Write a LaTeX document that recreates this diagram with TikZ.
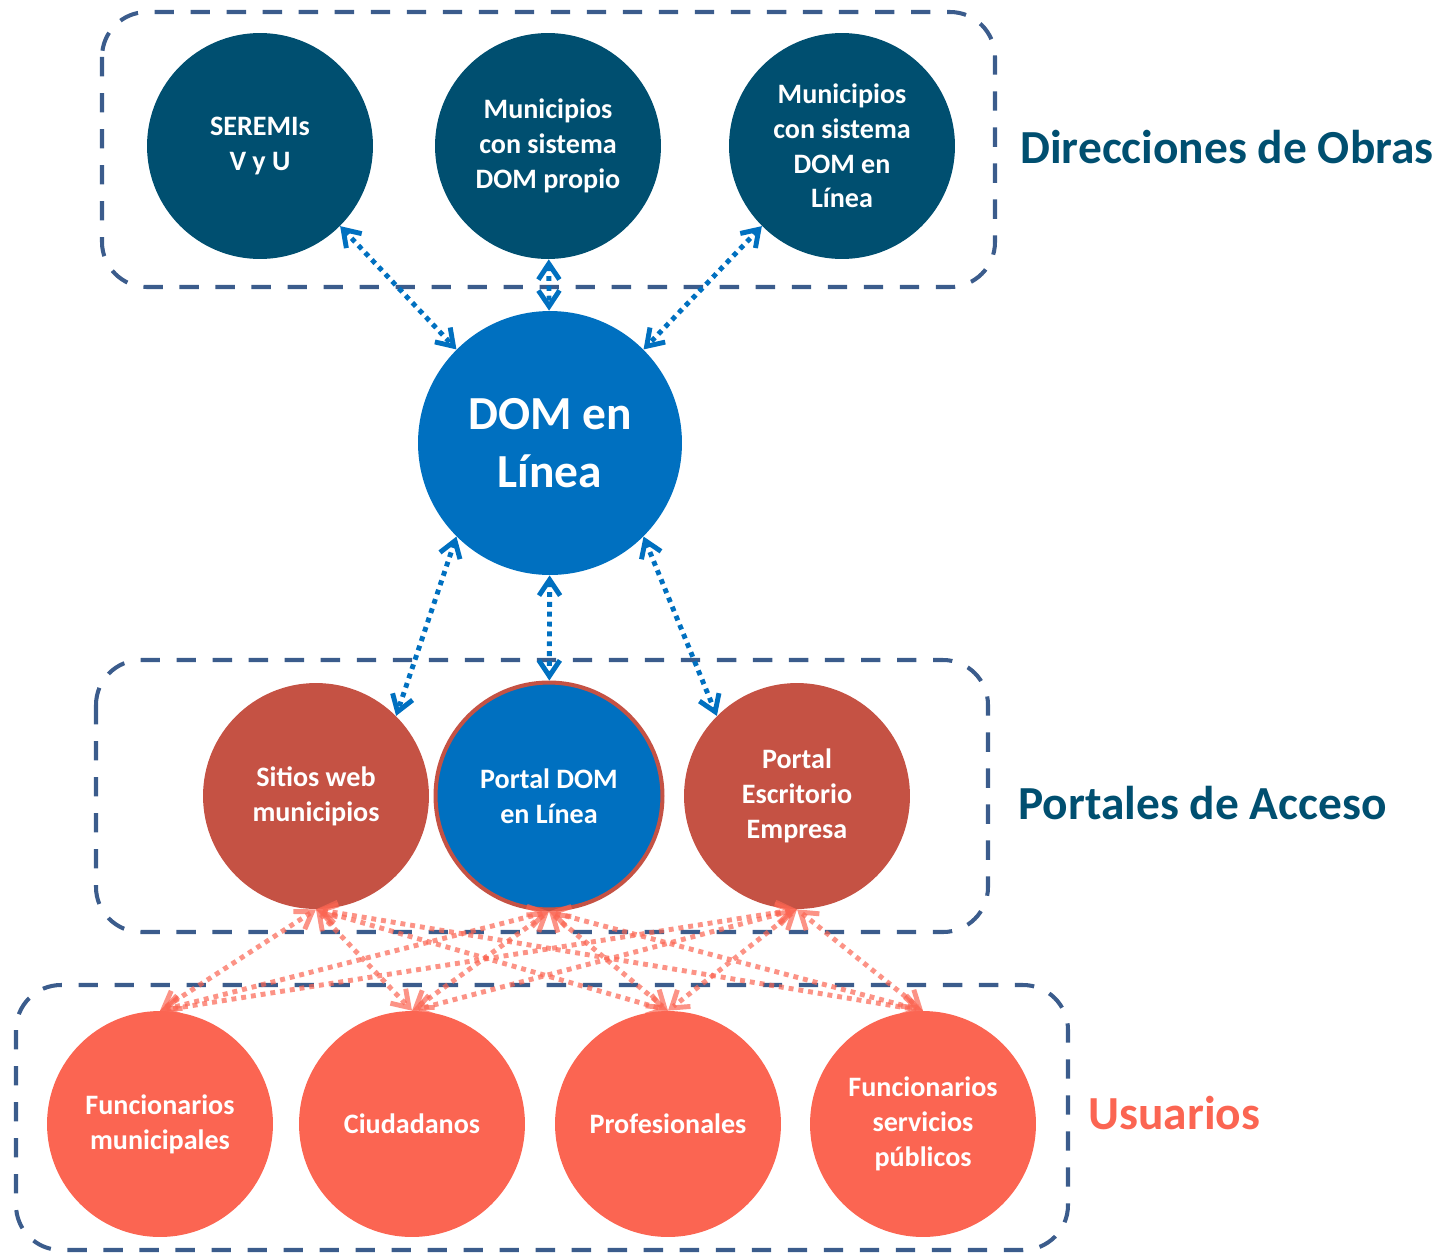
\documentclass[tikz,border=0pt]{standalone}
\usepackage{fontspec}
\setmainfont{Carlito}
\usetikzlibrary{arrows.meta}

\definecolor{obrasblue}{RGB}{0,79,112}
\definecolor{domblue}{RGB}{0,112,192}
\definecolor{portalred}{RGB}{197,82,68}
\definecolor{userred}{RGB}{251,101,82}
\definecolor{boxblue}{RGB}{59,92,140}

\begin{document}
\begin{tikzpicture}[x=0.02cm,y=-0.02cm,
  >={Straight Barb[length=9pt,width=12pt]},
  grupo/.style={draw=boxblue,line width=2.3pt,dash pattern=on 11pt off 9.5pt,rounded corners=0.9cm},
  bola/.style={circle,inner sep=0pt,minimum size=4.52cm,align=center,text=white,
    font=\bfseries\fontsize{16}{19.8}\selectfont},
  obra/.style={bola,fill=obrasblue},
  portal/.style={bola,fill=portalred},
  usuario/.style={bola,fill=userred},
  titulo/.style={anchor=west,inner sep=0pt,font=\bfseries\fontsize{27}{32}\selectfont},
  domarrow/.style={<->,draw=domblue,line width=2.8pt,dash pattern=on 2.8pt off 2.8pt},
  userarrow/.style={<->,draw=userred,draw opacity=0.7,line width=2.8pt,dash pattern=on 2.8pt off 2.8pt}]
  \useasboundingbox (0,0) rectangle (1454,1255);

  % grupos
  \draw[grupo] (102,12) rectangle (995,287);
  \draw[grupo] (96,660) rectangle (988,932);
  \draw[grupo] (16,985) rectangle (1068,1250);

  % direcciones de obras
  \node[obra] (seremi) at (260,146) {SEREMIs\\V y U};
  \node[obra] (munprop) at (548,146) {Municipios\\con sistema\\DOM propio};
  \node[obra] (munlinea) at (842,146) {Municipios\\con sistema\\DOM en\\Línea};
  \node[titulo,text=obrasblue] (tobras) at (1020,147) {Direcciones de Obras};

  % sistema central
  \node[bola,fill=domblue,minimum size=5.28cm,font=\bfseries\fontsize{27}{33.4}\selectfont] (dom) at (550,443) {DOM en\\Línea};

  % portales
  \node[portal] (sitios) at (316,796) {Sitios web\\municipios};
  \node[bola,fill=domblue,draw=portalred,line width=2.3pt,minimum size=4.54cm] (portaldom) at (549,796) {Portal DOM\\en Línea};
  \node[portal] (escritorio) at (797,796) {Portal\\Escritorio\\Empresa};
  \node[titulo,text=obrasblue] (tportales) at (1018,803) {Portales de Acceso};

  % usuarios
  \node[usuario] (funmun) at (160,1124) {Funcionarios\\municipales};
  \node[usuario] (ciud) at (412,1124) {Ciudadanos};
  \node[usuario] (prof) at (668,1124) {Profesionales};
  \node[usuario] (funserv) at (923,1124) {Funcionarios\\servicios\\públicos};
  \node[titulo,text=userred] (tusuarios) at (1088,1113) {Usuarios};

  % conexiones
  \draw[domarrow] (seremi.315) -- (dom.135);
  \draw[domarrow] (munprop) -- (dom);
  \draw[domarrow] (munlinea.225) -- (dom.45);
  \draw[domarrow] (dom.225) -- (sitios.45);
  \draw[domarrow] (dom) -- (portaldom);
  \draw[domarrow] (dom.315) -- (escritorio.135);
  \foreach \p in {sitios,portaldom,escritorio}
    \foreach \u in {funmun,ciud,prof,funserv}
      \draw[userarrow] (\p.south) -- (\u.north);
\end{tikzpicture}
\end{document}
